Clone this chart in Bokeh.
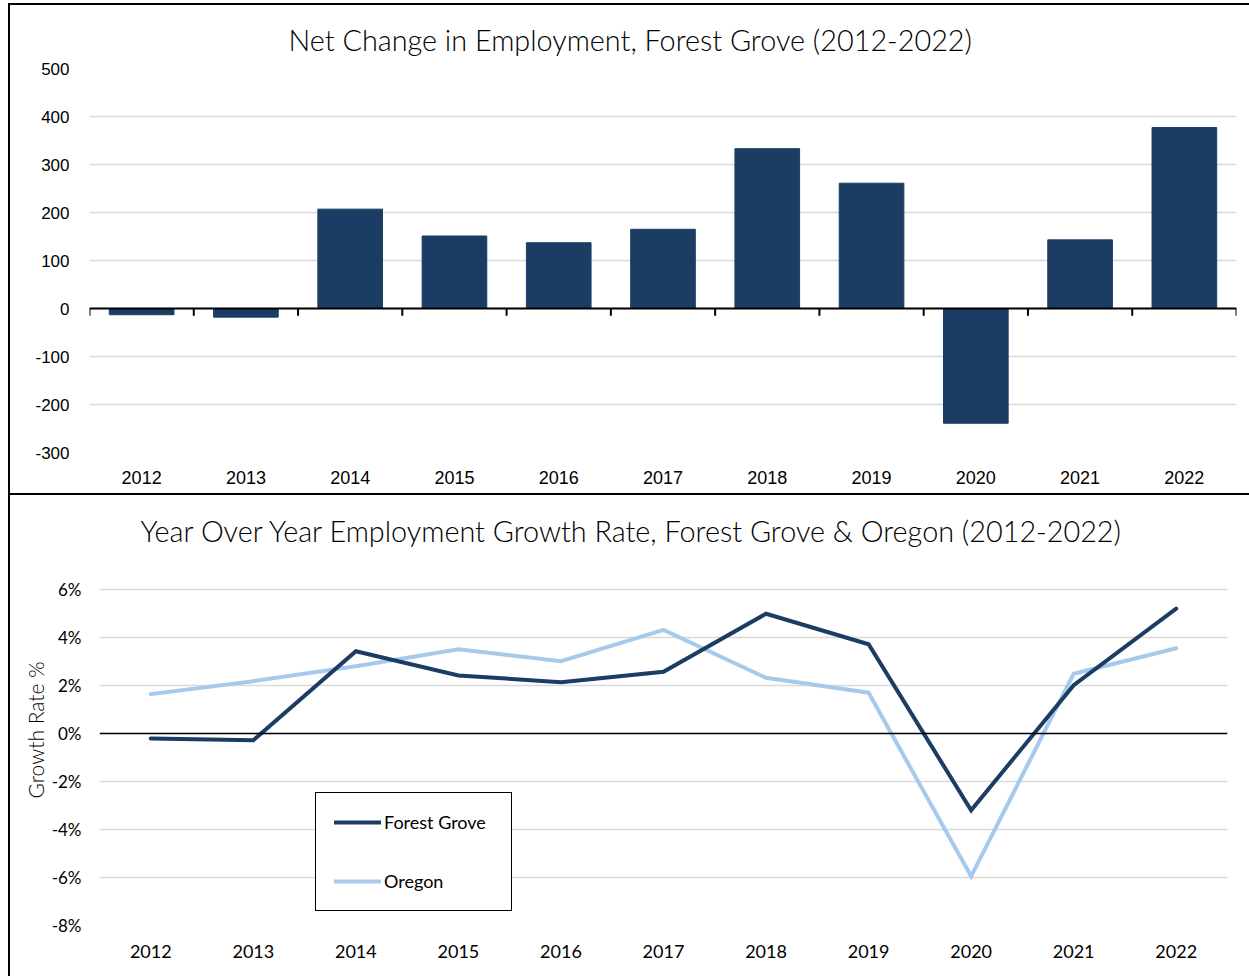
from bokeh.plotting import figure
from bokeh.models import (Range1d, FixedTicker, Legend, LegendItem, Title, Label,
                          PrintfTickFormatter, ColumnDataSource, Span)
from bokeh.layouts import column
from bokeh.embed import file_html
from bokeh.resources import INLINE

# ---------------- data ----------------
years = ["2012", "2013", "2014", "2015", "2016", "2017", "2018", "2019", "2020", "2021", "2022"]
net_change = [-13, -18, 207, 151, 137, 165, 333, 261, -239, 143, 377]
forest_grove_growth = [-0.21, -0.28, 3.43, 2.42, 2.14, 2.57, 4.99, 3.72, -3.2, 2.01, 5.2]
oregon_growth = [1.64, 2.18, 2.8, 3.51, 3.01, 4.32, 2.32, 1.70, -5.95, 2.49, 3.55]
net_ticks = [-300, -200, -100, 0, 100, 200, 300, 400, 500]
growth_ticks = [-8, -6, -4, -2, 0, 2, 4, 6]

title_top = "Net Change in Employment, Forest Grove (2012-2022)"
title_bottom = "Year Over Year Employment Growth Rate, Forest Grove & Oregon (2012-2022)"
y_label_bottom = "Growth Rate %"

NAVY = "#1b3d64"
LIGHT = "#a6caec"
GRID = "#d9d9d9"
TITLE_FONT = "Lato Light, Lato"
GROWTH_VIEW_TOP = 9.5   # empty headroom above the 6% line that holds the title

idx = list(range(len(years)))
labels = {i: y for i, y in zip(idx, years)}

# ---------------- top: bar chart ----------------
top = figure(width=1241, height=492, output_backend="svg", toolbar_location=None,
             x_range=Range1d(-0.5, len(years) - 0.5),
             y_range=Range1d(net_ticks[0], net_ticks[-1]),
             min_border_left=79, min_border_right=15, min_border_top=63, min_border_bottom=45,
             frame_align=False)
top.styles = {"border-top": "2px solid #000", "border-left": "2px solid #000",
              "border-bottom": "2px solid #000"}
top.outline_line_color = None

top.title = Title(text=title_top, align="left", offset=199, standoff=23,
                  text_font=TITLE_FONT, text_font_size="28.8px", text_font_style="normal",
                  text_color="#000000")

src_bar = ColumnDataSource(dict(x=idx, v=net_change))
top.vbar(x="x", top="v", bottom=0, width=0.62, source=src_bar,
         fill_color=NAVY, line_color=NAVY)

top.add_layout(Span(location=0, dimension="width", line_color="black", line_width=2))
bounds = [i - 0.5 for i in range(len(years) + 1)]
top.segment(x0=bounds, x1=bounds, y0=[0] * len(bounds), y1=[-15] * len(bounds),
            line_color="black", line_width=2)

top.xgrid.visible = False
top.ygrid.ticker = FixedTicker(ticks=net_ticks)
top.ygrid.grid_line_color = GRID
top.ygrid.grid_line_width = 1.5

top.yaxis.ticker = FixedTicker(ticks=net_ticks)
top.yaxis.formatter = PrintfTickFormatter(format="%d")
top.xaxis.ticker = FixedTicker(ticks=idx)
top.xaxis.major_label_overrides = labels
for ax in (top.xaxis[0], top.yaxis[0]):
    ax.axis_line_color = None
    ax.major_tick_line_color = None
    ax.minor_tick_line_color = None
    ax.major_label_text_font = "Liberation Sans"
    ax.major_label_text_color = "#000000"
top.yaxis.major_label_text_font_size = "17px"
top.yaxis.major_label_standoff = 14
top.xaxis.major_label_text_font_size = "18px"
top.xaxis.major_label_standoff = 12

# ---------------- bottom: line chart ----------------
bot = figure(width=1241, height=481, output_backend="svg", toolbar_location=None,
             x_range=Range1d(-0.5, len(years) - 0.5),
             y_range=Range1d(growth_ticks[0], GROWTH_VIEW_TOP),
             min_border_left=89, min_border_right=24, min_border_top=10, min_border_bottom=51,
             frame_align=False)
bot.styles = {"border-left": "2px solid #000"}
bot.outline_line_color = None

bot.add_layout(Label(x=-0.5, y=growth_ticks[-1], x_offset=41, y_offset=59,
                     text=title_bottom, text_font=TITLE_FONT, text_font_size="28.8px",
                     text_align="left", text_baseline="middle", text_color="#000000"))

bot.xgrid.visible = False
bot.ygrid.ticker = FixedTicker(ticks=growth_ticks)
bot.ygrid.grid_line_color = GRID
bot.ygrid.grid_line_width = 1.5
bot.add_layout(Span(location=0, dimension="width", line_color="black", line_width=1.5))

src_line = ColumnDataSource(dict(x=idx, fg=forest_grove_growth, ore=oregon_growth))
r_or = bot.line("x", "ore", source=src_line, line_color=LIGHT, line_width=4,
                line_cap="round", line_join="miter")
r_fg = bot.line("x", "fg", source=src_line, line_color=NAVY, line_width=4,
                line_cap="round", line_join="miter")

bot.yaxis.ticker = FixedTicker(ticks=growth_ticks)
bot.yaxis.formatter = PrintfTickFormatter(format="%d%%")
bot.xaxis.ticker = FixedTicker(ticks=idx)
bot.xaxis.major_label_overrides = labels
for ax in (bot.xaxis[0], bot.yaxis[0]):
    ax.axis_line_color = None
    ax.major_tick_line_color = None
    ax.minor_tick_line_color = None
    ax.major_label_text_font = "Lato"
    ax.major_label_text_color = "#000000"
bot.yaxis.major_label_text_font_size = "17px"
bot.yaxis.major_label_standoff = 12
bot.xaxis.major_label_text_font_size = "18px"
bot.xaxis.major_label_standoff = 13

bot.add_layout(Title(text=y_label_bottom, align="left", offset=127, standoff=2,
                     text_font=TITLE_FONT, text_font_size="21px", text_font_style="normal",
                     text_color="#000000"), "left")

legend = Legend(items=[LegendItem(label="Forest Grove", renderers=[r_fg]),
                       LegendItem(label="Oregon", renderers=[r_or])],
                location=(216, 14), margin=0, padding=18, spacing=37,
                glyph_width=47, glyph_height=20, label_height=20, label_width=109,
                label_standoff=3,
                label_text_font="Lato", label_text_font_size="18px",
                label_text_color="#000000",
                border_line_color="black", border_line_width=1.5, border_line_alpha=1.0,
                background_fill_color="white", background_fill_alpha=1.0)
bot.add_layout(legend)

layout = column(top, bot, spacing=0)
layout.styles = {"margin-left": "8px", "margin-top": "3px"}
open("out.html", "w").write(file_html(layout, INLINE))
